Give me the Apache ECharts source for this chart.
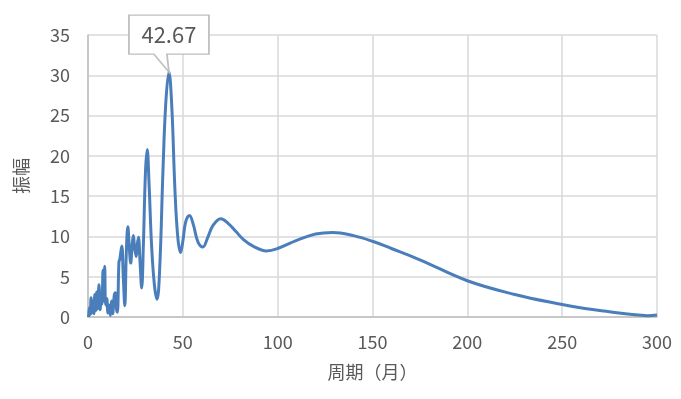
<!DOCTYPE html>
<html>
<head>
<meta charset="utf-8">
<script src="https://cdn.jsdelivr.net/npm/echarts@6/dist/echarts.min.js"></script>
<style>
html,body{margin:0;padding:0;background:#fff;}
#c{width:681px;height:399px;}
</style>
</head>
<body>
<div id="c"></div>
<script>
var periods = [0.3,0.8,1.2,1.6,2.1,2.6,3.1,3.6,4.1,4.6,5.1,5.8,6.4,7.0,7.4,7.9,8.3,8.8,9.3,9.9,10.5,11.2,11.8,12.4,13.0,13.8,14.4,15.0,15.5,16.3,16.8,17.8,18.6,19.4,20.2,21.0,21.8,22.5,23.3,23.9,24.6,25.4,26.0,26.6,27.4,28.3,29.2,30.3,31.2,32.2,33.5,35.0,36.4,37.8,39.5,41.0,42.67,44.2,45.8,47.3,48.8,50,51.5,53.5,55.5,58,60.6,63,66,70,74,78,82,87,94,100,110,120,129,140,150,160,175,200,225,250,262,275,287,295,300];
var amplitudes = [0.0,1.2,0.3,2.4,0.5,2.0,0.4,2.8,0.8,3.1,1.0,4.0,0.9,3.0,1.6,5.8,2.0,6.3,1.5,2.3,0.5,1.5,0.2,2.0,0.4,2.6,3.0,1.0,0.6,6.8,7.2,8.8,5.0,1.4,8.0,11.2,8.5,6.7,9.0,10.1,8.5,7.5,9.0,9.9,7.0,3.6,9.0,18.0,20.8,16.5,9.0,4.0,2.2,6.0,18.0,26.5,30.4,26.0,16.0,10.0,8.0,9.4,11.8,12.6,11.5,9.3,8.7,9.8,11.4,12.2,11.6,10.6,9.6,8.8,8.2,8.5,9.5,10.3,10.5,10.1,9.4,8.5,7.1,4.5,2.8,1.55,1.05,0.65,0.3,0.17,0.25];
var xTicks = [0,50,100,150,200,250,300];
var yTicks = [0,5,10,15,20,25,30,35];
var peakLabel = '42.67';
var peakPeriod = 42.67;
var peakAmp = 30.4;

var data = periods.map(function(p,i){return [p, amplitudes[i]];});
var chart = echarts.init(document.getElementById('c'));
var font = '"Noto Sans CJK SC", "DejaVu Sans", sans-serif';
chart.setOption({
  animation:false,
  grid:{left:88,right:24,top:35,bottom:82},
  xAxis:{type:'value',min:xTicks[0],max:xTicks[xTicks.length-1],interval:50,
    name:'周期（月）',nameLocation:'middle',nameGap:46,
    nameTextStyle:{color:'#595959',fontSize:18,fontFamily:font},
    axisLine:{show:true,lineStyle:{color:'#bfbfbf',width:1.5}},
    axisTick:{show:false},
    axisLabel:{color:'#595959',fontSize:18,margin:16,fontFamily:font},
    splitLine:{show:true,lineStyle:{color:'#d9d9d9',width:1.5}}},
  yAxis:{type:'value',min:yTicks[0],max:yTicks[yTicks.length-1],interval:5,
    name:'振幅',nameLocation:'middle',nameGap:58,nameRotate:90,
    nameTextStyle:{color:'#595959',fontSize:18,fontFamily:font},
    axisLine:{show:true,lineStyle:{color:'#bfbfbf',width:1.5}},
    axisTick:{show:false},
    axisLabel:{color:'#595959',fontSize:18,margin:18,fontFamily:font},
    splitLine:{show:true,lineStyle:{color:'#d9d9d9',width:1.5}}},
  series:[{type:'line',data:data,smooth:0.4,symbol:'none',
    lineStyle:{color:'#4a7ebb',width:3},
    markPoint:{
      symbol:'path://M0,0 L80,0 L80,39 L38,39 L40,57 L25,39 L0,39 Z',
      symbolSize:[80,57],
      symbolOffset:[0,'-50%'],
      symbolKeepAspect:false,
      itemStyle:{color:'#ffffff',borderColor:'#bfbfbf',borderWidth:1.5},
      label:{show:true,position:'inside',offset:[0,-9],formatter:peakLabel,color:'#595959',fontSize:22,fontFamily:font},
      data:[{coord:[peakPeriod,peakAmp]}]
    }
  }]
});
</script>
</body>
</html>
